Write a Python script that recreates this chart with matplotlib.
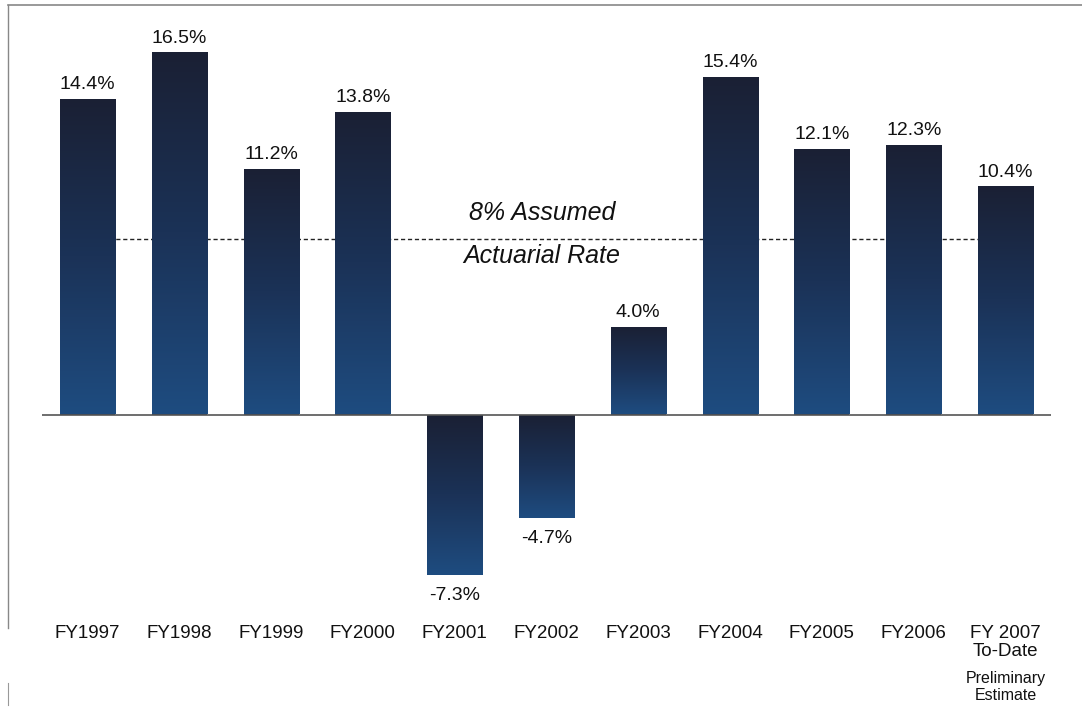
import matplotlib
matplotlib.use("Agg")
import matplotlib.pyplot as plt
import numpy as np
from matplotlib.colors import LinearSegmentedColormap
from matplotlib.lines import Line2D

plt.rcParams['font.family'] = ['Liberation Sans', 'DejaVu Sans']

categories = ["FY1997", "FY1998", "FY1999", "FY2000", "FY2001", "FY2002",
              "FY2003", "FY2004", "FY2005", "FY2006", "FY 2007\nTo-Date"]
values = [14.4, 16.5, 11.2, 13.8, -7.3, -4.7, 4.0, 15.4, 12.1, 12.3, 10.4]
value_labels = ["14.4%", "16.5%", "11.2%", "13.8%", "-7.3%", "-4.7%", "4.0%",
                "15.4%", "12.1%", "12.3%", "10.4%"]
assumed_rate = 8.0
last_note = "Preliminary\nEstimate"

W, H = 1082, 708
fig = plt.figure(figsize=(W / 100, H / 100), dpi=100)

# axes pixel box: x 41.6..1051.4, y (image) 20..600
ax_left, ax_right = 41.6, 1051.4
ax_top, ax_bot = 20, 600
ax = fig.add_axes([ax_left / W, 1 - ax_bot / H, (ax_right - ax_left) / W, (ax_bot - ax_top) / H])
ax.set_xlim(-0.5, len(values) - 0.5)
zero_px = 414.5
scale = 21.94
ax.set_ylim((zero_px - ax_bot) / scale, (zero_px - ax_top) / scale)
ax.axis('off')

x = np.arange(len(values))
cmap = LinearSegmentedColormap.from_list("bar", ["#1a2034", "#1b3257", "#1e4c80"])

# dashed assumed-rate line behind the bars
ax.plot([x[0], x[-1]], [assumed_rate, assumed_rate], linestyle=(0, (3, 2)),
        color="#222222", linewidth=1.0, zorder=1)

bars = ax.bar(x, values, width=0.6, color="#1c3358", zorder=2, linewidth=0)
grad = np.linspace(0, 1, 256).reshape(-1, 1)
for b in bars:
    x0, y0 = b.get_x(), b.get_y()
    w, h = b.get_width(), b.get_height()
    top = max(y0, y0 + h)
    bot = min(y0, y0 + h)
    im = ax.imshow(grad, cmap=cmap, aspect='auto', extent=[x0, x0 + w, bot, top],
                   origin='upper', zorder=3, interpolation='bicubic')
    im.set_clip_path(b)

# zero line
ax.axhline(0, color="#555555", linewidth=1.2, zorder=4)

# value labels
for xi, v, lab in zip(x, values, value_labels):
    if v >= 0:
        ax.annotate(lab, (xi, v), xytext=(0, 4), textcoords='offset points',
                    ha='center', va='bottom', fontsize=14, color="#111111")
    else:
        ax.annotate(lab, (xi, v), xytext=(0, -9), textcoords='offset points',
                    ha='center', va='top', fontsize=14, color="#111111")

# assumed-rate text
mid = (x[0] + x[-1]) / 2 - 0.05
ax.annotate("8% Assumed", (mid, assumed_rate), xytext=(0, 10), textcoords='offset points',
            ha='center', va='bottom', fontsize=18, style='italic', color="#111111")
ax.annotate("Actuarial Rate", (mid, assumed_rate), xytext=(0, -3.5), textcoords='offset points',
            ha='center', va='top', fontsize=18, style='italic', color="#111111")

# category labels
for xi, c in zip(x, categories):
    fig.text((ax_left + (xi + 0.5) / len(values) * (ax_right - ax_left)) / W, 1 - 625 / H,
             c, ha='center', va='top', fontsize=13.5, color="#111111", linespacing=1.1)
fig.text((ax_left + (x[-1] + 0.5) / len(values) * (ax_right - ax_left)) / W, 1 - 671 / H,
         last_note, ha='center', va='top', fontsize=11.5, color="#111111", linespacing=1.15)

# scan border lines
fig.add_artist(Line2D([8 / W, 1], [1 - 5 / H, 1 - 5 / H], transform=fig.transFigure,
                      color="#888888", linewidth=1.2))
fig.add_artist(Line2D([8 / W, 8 / W], [1 - 5 / H, 1 - 628 / H], transform=fig.transFigure,
                      color="#888888", linewidth=1.0))
fig.add_artist(Line2D([8 / W, 8 / W], [1 - 683 / H, 1 - 705 / H], transform=fig.transFigure,
                      color="#999999", linewidth=0.8))

fig.savefig("out.png", dpi=100)
